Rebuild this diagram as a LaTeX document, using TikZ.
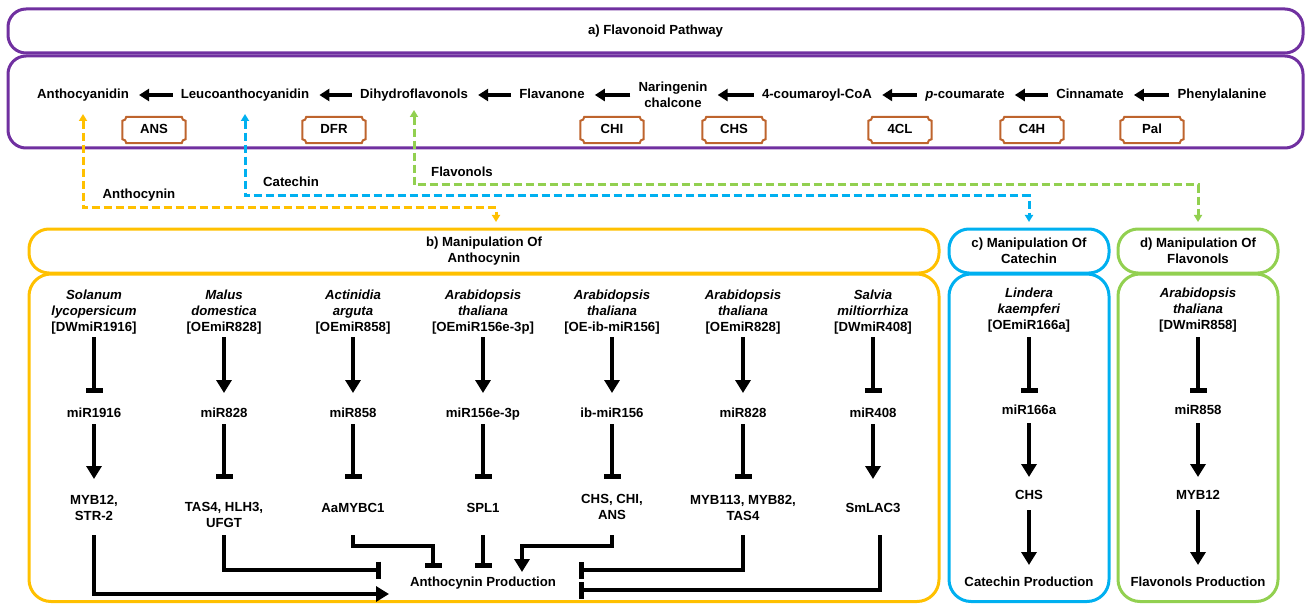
\documentclass[tikz,border=0pt]{standalone}
\usepackage{fontspec}
\setmainfont{Liberation Sans}
\usetikzlibrary{arrows.meta,calc}
\definecolor{pur}{RGB}{112,48,160}
\definecolor{yel}{RGB}{255,192,0}
\definecolor{blu}{RGB}{0,176,240}
\definecolor{grn}{RGB}{146,208,80}
\definecolor{brn}{RGB}{190,100,45}
\newcommand{\enzbox}[1]{%
  \draw[brn, line width=2pt] let \p1=(#1.north west), \p2=(#1.south east) in
    (\x1+4,\y1) -- (\x2-4,\y1) arc[start angle=180,end angle=270,radius=4]
    -- (\x2,\y2+4) arc[start angle=90,end angle=180,radius=4]
    -- (\x1+4,\y2) arc[start angle=0,end angle=90,radius=4]
    -- (\x1,\y1-4) arc[start angle=270,end angle=360,radius=4] -- cycle;}
\begin{document}
\begin{tikzpicture}[x=1pt,y=1pt,
  txt/.style={font=\fontsize{13.2}{16}\selectfont\bfseries, align=center, inner sep=2pt},
  one/.style={txt, text height=9.5pt, text depth=2.7pt},
  frame/.style={draw, line width=3pt, rounded corners=18pt, inner sep=0pt, outer sep=0pt, txt},
  enz/.style={one, minimum width=63pt, minimum height=26pt, inner sep=0pt},
  parr/.style={line width=3.3pt, -{Triangle[length=10pt,width=12pt]}, shorten >=8pt, shorten <=6pt},
  act/.style={line width=4pt, -{Triangle[length=13pt,width=15pt]}},
  inh/.style={line width=4pt, -{Bar[width=17pt,line width=5pt]}},
  dsh/.style={line width=3pt, dash pattern=on 8pt off 4pt,
    {Triangle[length=7pt,width=8pt]}-{Triangle[length=7pt,width=8pt]}},
]
\useasboundingbox (0,0) rectangle (1306,-604);

% ---------- frames ----------
\node[frame, draw=pur, minimum width=1295pt, minimum height=44pt] (ahead) at (655.5,-31) {a) Flavonoid Pathway};
\node[frame, draw=pur, minimum width=1295pt, minimum height=92pt] (abody) at (655.5,-102) {};
\node[frame, draw=yel, rounded corners=20pt, minimum width=910pt, minimum height=44pt] (bhead) at (484,-251) {b) Manipulation Of\\Anthocynin};
\node[frame, draw=yel, rounded corners=22pt, minimum width=910pt, minimum height=327.5pt] (bbody) at (484,-437.75) {};
\node[frame, draw=blu, rounded corners=20pt, minimum width=160pt, minimum height=44pt] (chead) at (1029,-251) {c) Manipulation Of\\Catechin};
\node[frame, draw=blu, rounded corners=22pt, minimum width=160pt, minimum height=327.5pt] (cbody) at (1029,-437.75) {};
\node[frame, draw=grn, rounded corners=20pt, minimum width=160pt, minimum height=44pt] (dhead) at (1198,-251) {d) Manipulation Of\\Flavonols};
\node[frame, draw=grn, rounded corners=22pt, minimum width=160pt, minimum height=327.5pt] (dbody) at (1198,-437.75) {};

% ---------- pathway ----------
\node[one] (antho) at (83,-95) {Anthocyanidin};
\node[one] (leuco) at (245,-95) {Leucoanthocyanidin};
\node[one] (dihyd) at (414,-95) {Dihydroflavonols};
\node[one] (flava) at (552,-95) {Flavanone};
\node[txt] (narin) at (673,-95) {Naringenin\\chalcone};
\node[one] (coum) at (817,-95) {4-coumaroyl-CoA};
\node[one] (pcou) at (965,-95) {\textit{p}-coumarate};
\node[one] (cinn) at (1090,-95) {Cinnamate};
\node[one] (phe) at (1222,-95) {Phenylalanine};
\draw[parr] (phe) -- (cinn);
\draw[parr] (cinn) -- (pcou);
\draw[parr] (pcou) -- (coum);
\draw[parr] (coum) -- (narin);
\draw[parr] (narin) -- (flava);
\draw[parr] (flava) -- (dihyd);
\draw[parr] (dihyd) -- (leuco);
\draw[parr] (leuco) -- (antho);

\node[enz] (ans) at (154,-130) {ANS};
\node[enz] (dfr) at (334,-130) {DFR};
\node[enz] (chi) at (612,-130) {CHI};
\node[enz] (chs) at (734,-130) {CHS};
\node[enz] (fcl) at (900,-130) {4CL};
\node[enz] (cfh) at (1032,-130) {C4H};
\node[enz] (pal) at (1152,-130) {Pal};
\enzbox{ans}\enzbox{dfr}\enzbox{chi}\enzbox{chs}\enzbox{fcl}\enzbox{cfh}\enzbox{pal}

% ---------- dashed links ----------
\coordinate (oc) at (496,-208); \coordinate (oe) at (496,-222);
\coordinate (bc) at (1029,-196); \coordinate (be) at (1029,-222);
\coordinate (gc) at (1198,-185); \coordinate (ge) at (1198,-222);
\draw[dsh, yel] ([yshift=-19pt]antho.center) |- (oc) -- (oe);
\draw[dsh, blu] ([yshift=-19pt]leuco.center) |- (bc) -- (be);
\draw[dsh, grn] ([yshift=-15pt]dihyd.center) |- (gc) -- (ge);
\node[one] (lab1) at (139,-195) {Anthocynin};
\node[one] (lab2) at (291,-183) {Catechin};
\node[one] (lab3) at (462,-173) {Flavonols};

% ---------- levels ----------
\coordinate (L1s) at (0,-337); \coordinate (L1e) at (0,-393);
\coordinate (L2s) at (0,-424); \coordinate (L2e) at (0,-479);
\coordinate (M2s) at (0,-423); \coordinate (M2e) at (0,-477);
\coordinate (L3s) at (0,-510); \coordinate (L3e) at (0,-565);
\coordinate (BS) at (0,-535);

% ---------- panel b ----------
\node[txt] (s1) at (94,-312) {\textit{Solanum}\\\textit{lycopersicum}\\{[DWmiR1916]}};
\node[txt] (s2) at (224,-312) {\textit{Malus}\\\textit{domestica}\\{[OEmiR828]}};
\node[txt] (s3) at (353,-312) {\textit{Actinidia}\\\textit{arguta}\\{[OEmiR858]}};
\node[txt] (s4) at (483,-312) {\textit{Arabidopsis}\\\textit{thaliana}\\{[OEmiR156e-3p]}};
\node[txt] (s5) at (612,-312) {\textit{Arabidopsis}\\\textit{thaliana}\\{[OE-ib-miR156]}};
\node[txt] (s6) at (743,-312) {\textit{Arabidopsis}\\\textit{thaliana}\\{[OEmiR828]}};
\node[txt] (s7) at (873,-312) {\textit{Salvia}\\\textit{miltiorrhiza}\\{[DWmiR408]}};

\node[one] (m1) at (94,-414) {miR1916};
\node[one] (m2) at (224,-414) {miR828};
\node[one] (m3) at (353,-414) {miR858};
\node[one] (m4) at (483,-414) {miR156e-3p};
\node[one] (m5) at (612,-414) {ib-miR156};
\node[one] (m6) at (743,-414) {miR828};
\node[one] (m7) at (873,-414) {miR408};

\node[txt] (t1) at (94,-508) {MYB12,\\STR-2};
\node[txt] (t2) at (224,-515) {TAS4, HLH3,\\UFGT};
\node[one] (t3) at (353,-509) {AaMYBC1};
\node[one] (t4) at (483,-509) {SPL1};
\node[txt] (t5) at (612,-507) {CHS, CHI,\\ANS};
\node[txt] (t6) at (743,-508) {MYB113, MYB82,\\TAS4};
\node[one] (t7) at (873,-509) {SmLAC3};

\node[one] (pb) at (483,-583) {Anthocynin Production};

\draw[inh] (s1.center |- L1s) -- (m1.center |- L1e);
\draw[act] (s2.center |- L1s) -- (m2.center |- L1e);
\draw[act] (s3.center |- L1s) -- (m3.center |- L1e);
\draw[act] (s4.center |- L1s) -- (m4.center |- L1e);
\draw[act] (s5.center |- L1s) -- (m5.center |- L1e);
\draw[act] (s6.center |- L1s) -- (m6.center |- L1e);
\draw[inh] (s7.center |- L1s) -- (m7.center |- L1e);

\draw[act] (m1.center |- L2s) -- (t1.center |- L2e);
\draw[inh] (m2.center |- L2s) -- (t2.center |- L2e);
\draw[inh] (m3.center |- L2s) -- (t3.center |- L2e);
\draw[inh] (m4.center |- L2s) -- (t4.center |- L2e);
\draw[inh] (m5.center |- L2s) -- (t5.center |- L2e);
\draw[inh] (m6.center |- L2s) -- (t6.center |- L2e);
\draw[act] (m7.center |- L2s) -- (t7.center |- L2e);

\coordinate (e1) at (389,-594);
\coordinate (e2) at (381,-570);
\coordinate (k3) at (433,-546); \coordinate (e3) at (433,-568);
\coordinate (e4) at (483,-568);
\coordinate (k5) at (522,-546); \coordinate (e5) at (522,-572);
\coordinate (e6) at (579,-570);
\coordinate (e7) at (579,-590);
\draw[act] (t1.center |- BS) |- (e1);
\draw[inh] (t2.center |- BS) |- (e2);
\draw[inh] (t3.center |- BS) |- (k3) -- (e3);
\draw[inh] (t4.center |- BS) -- (e4);
\draw[act] (t5.center |- BS) |- (k5) -- (e5);
\draw[inh] (t6.center |- BS) |- (e6);
\draw[inh] ([xshift=7pt]t7.center |- BS) |- (e7);

% ---------- panel c ----------
\node[txt] (sc) at (1029,-310) {\textit{Lindera}\\\textit{kaempferi}\\{[OEmiR166a]}};
\node[one] (mc) at (1029,-411) {miR166a};
\node[one] (tc) at (1029,-496) {CHS};
\node[one] (pc) at (1029,-583) {Catechin Production};
\draw[inh] (sc.center |- L1s) -- (mc.center |- L1e);
\draw[act] (mc.center |- M2s) -- (tc.center |- M2e);
\draw[act] (tc.center |- L3s) -- (pc.center |- L3e);

% ---------- panel d ----------
\node[txt] (sd) at (1198,-310) {\textit{Arabidopsis}\\\textit{thaliana}\\{[DWmiR858]}};
\node[one] (md) at (1198,-411) {miR858};
\node[one] (td) at (1198,-496) {MYB12};
\node[one] (pd) at (1198,-583) {Flavonols Production};
\draw[inh] (sd.center |- L1s) -- (md.center |- L1e);
\draw[act] (md.center |- M2s) -- (td.center |- M2e);
\draw[act] (td.center |- L3s) -- (pd.center |- L3e);
\end{tikzpicture}
\end{document}
